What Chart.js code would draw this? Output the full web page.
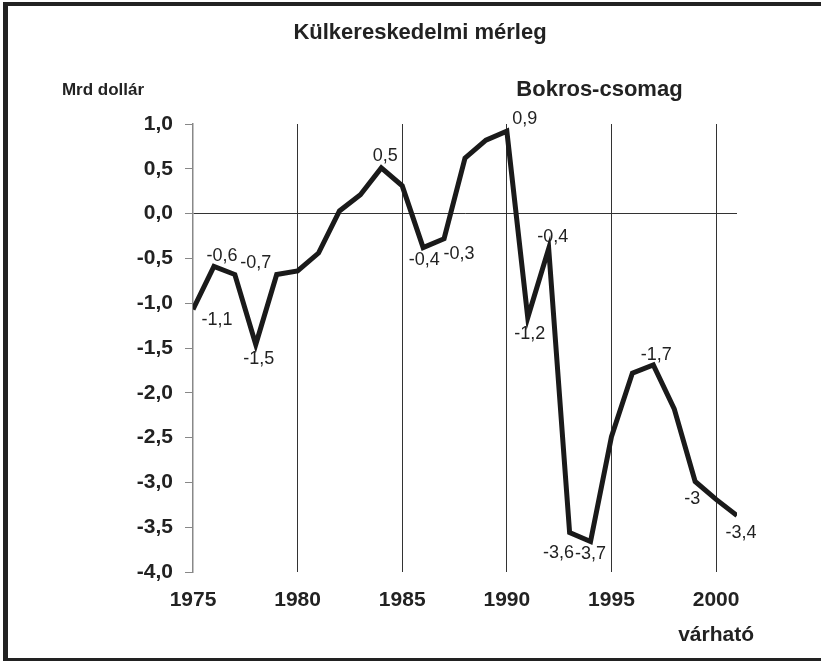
<!DOCTYPE html>
<html>
<head>
<meta charset="utf-8">
<script src="https://cdn.jsdelivr.net/npm/chart.js@4/dist/chart.umd.min.js"></script>
<style>
  html, body { margin: 0; padding: 0; background: #fff; }
  #wrap { position: relative; width: 821px; height: 661px; overflow: hidden; }
  #frame { position: absolute; left: 3px; top: 2px; right: -10px; bottom: 0;
    border-top: 4px solid #222; border-left: 5px solid #222; border-bottom: 3px solid #222; pointer-events: none; }
  canvas { position: absolute; left: 0; top: 0; }
</style>
</head>
<body>
<div id="wrap">
  <canvas id="chart" width="821" height="661"></canvas>
  <div id="frame"></div>
</div>
<script>
const FONT = "'Liberation Sans', Arial, sans-serif";

// data
const years = [1975, 1976, 1977, 1978, 1979, 1980, 1981, 1982, 1983, 1984, 1985, 1986, 1987,
  1988, 1989, 1990, 1991, 1992, 1993, 1994, 1995, 1996, 1997, 1998, 1999, 2000, 2001];
const balance = [-1.07, -0.59, -0.68, -1.46, -0.68, -0.64, -0.44, 0.03, 0.21, 0.51, 0.31, -0.38, -0.28,
  0.62, 0.82, 0.92, -1.16, -0.39, -3.56, -3.66, -2.49, -1.78, -1.69, -2.18, -2.99, -3.19, -3.37];
const pointLabels = ['-1,1', '-0,6', '-0,7', '-1,5', '', '', '', '', '', '0,5', '', '-0,4', '-0,3',
  '', '', '0,9', '-1,2', '-0,4', '-3,6', '-3,7', '', '', '-1,7', '', '-3', '', '-3,4'];
const xTicks = [1975, 1980, 1985, 1990, 1995, 2000];
const yTicks = [1, 0.5, 0, -0.5, -1, -1.5, -2, -2.5, -3, -3.5, -4];

const title = 'Külkereskedelmi mérleg';
const unitLabel = 'Mrd dollár';
const eventLabel = 'Bokros-csomag';
const forecastNote = 'várható';

// label offsets (px) from each point, keyed by year
const labelOffset = {
  1975: [24, 11], 1976: [8, -10], 1977: [21, -11], 1978: [3, 15], 1984: [4, -12],
  1986: [1, 12], 1987: [15, 15], 1990: [18, -12], 1991: [2, 16], 1992: [4, -12],
  1993: [-11, 20], 1994: [0, 12], 1997: [3, -10], 1999: [-3, 18], 2001: [4, 17]
};

const comma = v => v.toFixed(1).replace('.', ',').replace('-0,0', '0,0');

const annotate = {
  id: 'annotate',
  afterDatasetsDraw(chart) {
    const ctx = chart.ctx;
    const meta = chart.getDatasetMeta(0);
    const xs = chart.scales.x;
    ctx.save();
    ctx.fillStyle = '#222';
    ctx.textAlign = 'center';
    ctx.textBaseline = 'middle';
    ctx.font = '18px ' + FONT;
    meta.data.forEach((pt, i) => {
      const txt = pointLabels[i];
      if (!txt) return;
      const off = labelOffset[years[i]] || [0, -12];
      ctx.fillText(txt, pt.x + off[0], pt.y + off[1]);
    });
    ctx.font = 'bold 22px ' + FONT;
    ctx.fillText(title, 420, 33);
    ctx.font = 'bold 17px ' + FONT;
    ctx.fillText(unitLabel, 103, 90);
    ctx.font = 'bold 22px ' + FONT;
    ctx.fillText(eventLabel, xs.getPixelForValue(1995) - 12, 90);
    ctx.restore();
  }
};

new Chart(document.getElementById('chart'), {
  type: 'line',
  data: {
    labels: years,
    datasets: [{
      data: years.map((y, i) => ({ x: y, y: balance[i] })),
      borderColor: '#1a1a1a',
      borderWidth: 5,
      pointRadius: 0,
      tension: 0,
      borderJoinStyle: 'miter'
    }]
  },
  options: {
    responsive: false,
    animation: false,
    layout: { padding: { left: 0, right: 84, top: 124, bottom: 0 } },
    plugins: {
      legend: { display: false },
      tooltip: { enabled: false },
      title: { display: false }
    },
    scales: {
      x: {
        type: 'linear',
        min: 1975,
        max: 2001,
        afterBuildTicks: s => { s.ticks = xTicks.map(v => ({ value: v })); },
        afterFit: s => { s.height = 89; },
        ticks: {
          color: '#222',
          padding: 11,
          maxRotation: 0,
          font: { family: FONT, size: 21, weight: 'bold', lineHeight: 1.65 },
          callback: v => v === 2000 ? ['2000', forecastNote] : String(v)
        },
        grid: {
          color: c => c.tick && c.tick.value === 1975 ? 'rgba(0,0,0,0)' : '#333',
          lineWidth: 1,
          drawTicks: false
        },
        border: { display: false }
      },
      y: {
        min: -4,
        max: 1,
        afterBuildTicks: s => { s.ticks = yTicks.map(v => ({ value: v })); },
        afterFit: s => { s.width = 193; },
        ticks: {
          color: '#222',
          padding: 12,
          font: { family: FONT, size: 21, weight: 'bold' },
          callback: v => comma(v)
        },
        grid: {
          color: c => c.tick && c.tick.value === 0 ? '#333' : 'rgba(0,0,0,0)',
          tickColor: '#888',
          tickLength: 8,
          lineWidth: 1
        },
        border: { display: true, color: '#888', width: 1.5 }
      }
    }
  },
  plugins: [annotate]
});
</script>
</body>
</html>
